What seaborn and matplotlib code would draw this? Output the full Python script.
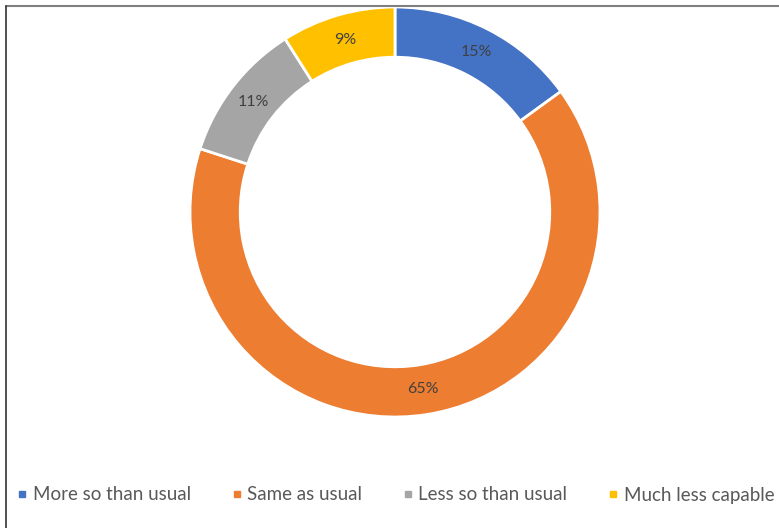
import numpy as np
import pandas as pd
import matplotlib.pyplot as plt
import seaborn as sns
from matplotlib.lines import Line2D

# donut data
categories = ['More so than usual', 'Same as usual', 'Less so than usual', 'Much less capable']
shares = [15, 65, 11, 9]
colors = ['#4472C4', '#ED7D31', '#A5A5A5', '#FFC000']

sns.set_theme(style='white')
plt.rcParams['font.family'] = ['Lato', 'DejaVu Sans']

df = pd.DataFrame({'category': categories, 'share': shares})
pal = sns.color_palette(colors)

fig = plt.figure(figsize=(7.79, 5.28), dpi=100)
W, H = 779, 528
# pie axes: centre (395, 212), radius ~205 px
ax = fig.add_axes([(395 - 205) / W, (H - 212 - 205) / H, 410 / W, 410 / H])
wedges, texts = ax.pie(df['share'], colors=pal, startangle=90, counterclock=False,
                       radius=1.0, wedgeprops=dict(width=0.245, edgecolor='white', linewidth=2))
ax.set_aspect('equal')
ax.set_xlim(-1, 1)
ax.set_ylim(-1, 1)
ax.axis('off')

# percentage labels at ring middle
for w, val in zip(wedges, df['share']):
    mid = np.deg2rad((w.theta1 + w.theta2) / 2)
    r = 0.875
    ax.text(r * np.cos(mid), r * np.sin(mid), f'{val}%', ha='center', va='center',
            fontsize=11.5, color='#404040')

# legend along the bottom
handles = [Line2D([], [], marker='s', linestyle='', markersize=5, color=c) for c in colors]
fig.legend(handles, categories, loc='center left', bbox_to_anchor=(14 / W, 1 - 495 / H),
           ncol=4, frameon=False, fontsize=13.5, handletextpad=0.1, columnspacing=2.0,
           handlelength=0.9, labelcolor='#595959', borderaxespad=0, borderpad=0)

# chart frame (cut at right/bottom)
fig.add_artist(Line2D([6 / W, 1], [1 - 6 / H, 1 - 6 / H], color='#7f7f7f', lw=1.5))
fig.add_artist(Line2D([6 / W, 6 / W], [0, 1 - 6 / H], color='#333333', lw=1.2))

fig.savefig('out.png', dpi=100)
